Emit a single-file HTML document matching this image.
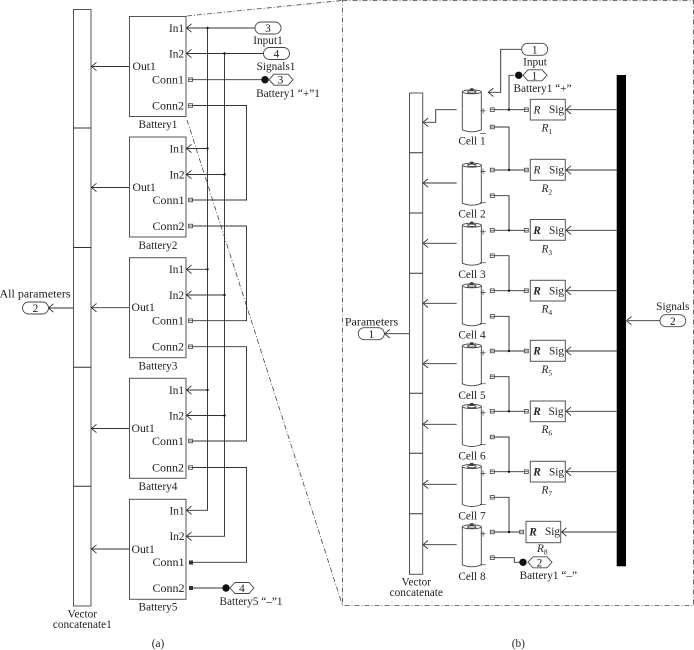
<!DOCTYPE html>
<html><head><meta charset="utf-8"><style>
html,body{margin:0;padding:0;background:#fff}
svg{display:block}
text{font-family:"Liberation Serif",serif;font-size:11.3px;fill:#222}
.m{text-anchor:middle}.e{text-anchor:end}
.r{font-style:italic}
.b{font-style:italic;font-weight:bold}
.s{font-size:7.5px}
.l{font-size:12px}
.u{font-size:11.7px}
</style></head><body>
<svg width="694" height="650" viewBox="0 0 694 650" xmlns="http://www.w3.org/2000/svg">
<defs>
<path id="a" d="M5-4.2L0 0 5 4.2" fill="none" stroke="#333" stroke-width=".9"/>
<g id="q"><rect x="-2" y="-1.8" width="4" height="3.6" fill="#fff" stroke="#444" stroke-width=".8"/><path d="M-2 0H2" stroke="#444" stroke-width=".7"/></g>
<rect id="k" x="-2" y="-2" width="4" height="4" fill="#333"/>
<circle id="d" r="1.2" fill="#111"/>
<g id="c" fill="#fff" stroke="#444" stroke-width=".9"><path d="M0 2.5V40.5Q9.5 44.5 19 40.5V2.5"/><ellipse cx="9.5" cy="2.5" rx="9.5" ry="2"/><ellipse cx="9.5" cy="2.6" rx="4.2" ry="1.2"/><rect x="8.2" y="-.6" width="2.6" height="2" fill="#333"/></g>
<circle id="o" r="3.7" fill="#111"/>
<path id="h" d="M0 0L5 -5.5H19L24 0 19 5.5H5Z" fill="#fff" stroke="#444" stroke-width=".9"/>
</defs>

<!-- dash-dot zoom -->
<g fill="none" stroke="#444" stroke-width=".8" stroke-dasharray="5 2 1 2">
<path d="M187 16L342 .5"/><path d="M187 120L342.5 605.5"/>
<path d="M342.5 .5H693.5V605.5H342.5Z"/>
</g>

<!-- (a) blocks -->
<g fill="#fff" stroke="#555" stroke-width="1">
<rect x="73.5" y="9.5" width="17.5" height="596.5"/>
<path d="M73.5 128H91M73.5 247.5H91M73.5 367.3H91M73.5 486.3H91" stroke="#333"/>
<rect x="129.5" y="16.5" width="56.5" height="100"/>
<rect x="129.5" y="137" width="56.5" height="100"/>
<rect x="129.5" y="257.7" width="56.5" height="100"/>
<rect x="129.5" y="378.3" width="56.5" height="100"/>
<rect x="129.5" y="499.3" width="56.5" height="100"/>
</g>
<g fill="none" stroke="#333" stroke-width=".95">
<path d="M129 66.5H92M129 187.5H92M129 307.7H92M129 428.5H92M129 549H92"/>
<path d="M73 308H49"/>
<path d="M255 28H187M207.5 28V510.3H187"/>
<path d="M264 53.5H187M224.5 53.5V536.3H187"/>
<path d="M207.5 148.5H187M224.5 174.5H187M207.5 269.3H187M224.5 295H187M207.5 390H187M224.5 415.5H187"/>
<path d="M192.5 79.7H262"/>
<path d="M192.5 105.5H246.5V200H192.5"/>
<path d="M192.5 226H246.5V320.7H192.5"/>
<path d="M192.5 346.7H246.5V441H192.5"/>
<path d="M192.5 467.5H246.5V562.3H192.5"/>
<path d="M192.5 588H224"/>
</g>
<g>
<use href="#a" x="91.5" y="66.5"/><use href="#a" x="91.5" y="187.5"/><use href="#a" x="91.5" y="307.7"/><use href="#a" x="91.5" y="428.5"/><use href="#a" x="91.5" y="549"/>
<use href="#a" x="48.5" y="308"/>
<use href="#a" x="186.5" y="28"/><use href="#a" x="186.5" y="53.5"/><use href="#a" x="186.5" y="148.5"/><use href="#a" x="186.5" y="174.5"/><use href="#a" x="186.5" y="269.3"/><use href="#a" x="186.5" y="295"/><use href="#a" x="186.5" y="390"/><use href="#a" x="186.5" y="415.5"/><use href="#a" x="186.5" y="510.3"/><use href="#a" x="186.5" y="536.3"/>
<use href="#d" x="207.5" y="28"/><use href="#d" x="224.5" y="53.5"/><use href="#d" x="207.5" y="148.5"/><use href="#d" x="224.5" y="174.5"/><use href="#d" x="207.5" y="269.3"/><use href="#d" x="224.5" y="295"/><use href="#d" x="207.5" y="390"/><use href="#d" x="224.5" y="415.5"/>
<use href="#q" x="190.5" y="79.7"/><use href="#q" x="190.5" y="105.5"/><use href="#q" x="190.5" y="200"/><use href="#q" x="190.5" y="226"/><use href="#q" x="190.5" y="320.7"/><use href="#q" x="190.5" y="346.7"/><use href="#q" x="190.5" y="441"/><use href="#q" x="190.5" y="467.5"/>
<use href="#k" x="191" y="562.5"/><use href="#k" x="191" y="588"/>
</g>
<g fill="#fff" stroke="#444" stroke-width=".9">
<rect x="255" y="22" width="26" height="12" rx="6"/>
<rect x="263.5" y="47.5" width="26" height="12" rx="6"/>
<rect x="22.5" y="302" width="26" height="12" rx="6"/>
</g>
<use href="#o" x="265" y="79.7"/><use href="#h" x="269" y="79.7"/>
<use href="#o" x="226" y="588"/><use href="#h" x="230" y="588"/>

<text class="m" x="268" y="32">3</text><text class="m" x="276.5" y="57.5">4</text>
<text class="m" x="35.5" y="312">2</text><text class="m" x="280.5" y="83.5">3</text><text class="m" x="242" y="592">4</text>
<text class="m" x="268" y="44">Input1</text>
<text class="m" x="276" y="70">Signals1</text>
<text class="m" x="288" y="97">Battery1 “+”1</text>
<text class="m" x="251" y="605">Battery5 “–”1</text>
<text class="m l" x="35" y="297.5">All parameters</text>
<text class="m" x="82.3" y="617.5">Vector</text><text class="m" x="82.3" y="628">concatenate1</text>
<text class="m" x="158" y="647">(a)</text>

<g>
<text class="e" x="184" y="32">In1</text><text class="e" x="184" y="57.5">In2</text><text class="e l" x="184" y="83.5">Conn1</text><text class="e l" x="184" y="109.5">Conn2</text><text class="u" x="132.5" y="70">Out1</text><text class="m" x="158" y="128">Battery1</text>
<text class="e" x="184.5" y="152.5">In1</text><text class="e" x="184.5" y="178.5">In2</text><text class="e l" x="184.5" y="204">Conn1</text><text class="e l" x="184.5" y="230">Conn2</text><text class="u" x="132.5" y="191">Out1</text><text class="m" x="158" y="249">Battery2</text>
<text class="e" x="184" y="273">In1</text><text class="e" x="184" y="299">In2</text><text class="e l" x="184" y="324.5">Conn1</text><text class="e l" x="184" y="350.5">Conn2</text><text class="u" x="131.5" y="311">Out1</text><text class="m" x="158" y="369.5">Battery3</text>
<text class="e" x="184" y="394">In1</text><text class="e" x="184" y="419.5">In2</text><text class="e l" x="184" y="445">Conn1</text><text class="e l" x="184" y="471.5">Conn2</text><text class="u" x="131.5" y="432">Out1</text><text class="m" x="158" y="490">Battery4</text>
<text class="e" x="184.5" y="514.5">In1</text><text class="e" x="184.5" y="540">In2</text><text class="e l" x="184.5" y="566">Conn1</text><text class="e l" x="184.5" y="592">Conn2</text><text class="u" x="131.5" y="553">Out1</text><text class="m" x="158" y="610.5">Battery5</text>
</g>

<!-- (b) -->
<g fill="#fff" stroke="#555" stroke-width="1">
<rect x="409.5" y="93" width="13.2" height="481.3"/>
<path d="M409.5 152.7H422.7M409.5 213H422.7M409.5 273.3H422.7M409.5 393.3H422.7M409.5 453.3H422.7M409.5 513.7H422.7" stroke="#333"/>
</g>
<rect x="616.7" y="75" width="9.3" height="491.3" fill="#000"/>
<use href="#c" x="462.3" y="89.3"/><use href="#c" x="462.3" y="162.7"/><use href="#c" x="462.3" y="222.7"/><use href="#c" x="462.3" y="283.3"/><use href="#c" x="462.3" y="343.3"/><use href="#c" x="462.3" y="404"/><use href="#c" x="462.3" y="464"/><use href="#c" x="462.3" y="524.3"/>

<g fill="none" stroke="#333" stroke-width=".95">
<path d="M456.7 109.7H435.7V122.3H424"/>
<path d="M456.7 183H424M456.7 243.3H424M456.7 303.3H424M456.7 363.7H424M456.7 424.3H424M456.7 484.3H424M456.7 544.7H424"/>
<path d="M409 333.7H385"/>
<path d="M521.7 49.3H500.7V92.3H489"/>
<path d="M514 75.3H509V109.7"/>
<path d="M494 109.7H525M494 170H525M494 230.3H525M494 290.7H525M494 351H525M494 411.3H525M494 471.7H525M494 532H520"/>
<path d="M494 127H509V170M494 195.7H509V230.3M494 255.7H509V290.7M494 316.3H509V351M494 376.7H509V411.3M494 437H509V471.7M494 497.3H509V532"/>
<path d="M494 557.7H514.3V562.3H520"/>
<path d="M616.7 109.7H567M616.7 170H567M616.7 230.3H567M616.7 290.7H567M616.7 351H567M616.7 411.3H567M616.7 471.7H567M616.7 532H562"/>
<path d="M660 320.7H628"/>
</g>
<g fill="#fff" stroke="#555" stroke-width="1">
<rect x="530.3" y="99.3" width="35" height="20.7"/>
<rect x="530.3" y="159.3" width="35" height="21"/>
<rect x="530.3" y="219.5" width="35" height="20.8"/>
<rect x="530.3" y="280.3" width="35" height="20.7"/>
<rect x="530.3" y="340.3" width="35" height="21"/>
<rect x="530.3" y="401" width="35" height="20.7"/>
<rect x="530.3" y="461.3" width="35" height="20.7"/>
<rect x="526" y="521.3" width="34.7" height="21.4"/>
<rect x="358.3" y="327.7" width="26" height="12" rx="6" stroke="#444" stroke-width=".9"/>
<rect x="660" y="314.7" width="25.7" height="12" rx="6" stroke="#444" stroke-width=".9"/>
<rect x="521.7" y="43.3" width="26" height="12" rx="6" stroke="#444" stroke-width=".9"/>
</g>
<g>
<use href="#a" x="423" y="122.3"/><use href="#a" x="423" y="183"/><use href="#a" x="423" y="243.3"/><use href="#a" x="423" y="303.3"/><use href="#a" x="423" y="363.7"/><use href="#a" x="423" y="424.3"/><use href="#a" x="423" y="484.3"/><use href="#a" x="423" y="544.7"/>
<use href="#a" x="384.7" y="333.7"/><use href="#a" x="488.3" y="92.3"/><use href="#a" x="626.5" y="320.7"/>
<use href="#a" x="566" y="109.7"/><use href="#a" x="566" y="170"/><use href="#a" x="566" y="230.3"/><use href="#a" x="566" y="290.7"/><use href="#a" x="566" y="351"/><use href="#a" x="566" y="411.3"/><use href="#a" x="566" y="471.7"/><use href="#a" x="561.5" y="532"/>
<use href="#q" x="492.3" y="109.7"/><use href="#q" x="492.3" y="127"/><use href="#q" x="492.3" y="170"/><use href="#q" x="492.3" y="195.7"/><use href="#q" x="492.3" y="230.3"/><use href="#q" x="492.3" y="255.7"/><use href="#q" x="492.3" y="290.7"/><use href="#q" x="492.3" y="316.3"/><use href="#q" x="492.3" y="351"/><use href="#q" x="492.3" y="376.7"/><use href="#q" x="492.3" y="411.3"/><use href="#q" x="492.3" y="437"/><use href="#q" x="492.3" y="471.7"/><use href="#q" x="492.3" y="497.3"/><use href="#q" x="492.3" y="532"/><use href="#q" x="492.3" y="557.7"/>
<use href="#q" x="526.3" y="109.7"/><use href="#q" x="526.3" y="170"/><use href="#q" x="526.3" y="230.3"/><use href="#q" x="526.3" y="290.7"/><use href="#q" x="526.3" y="351"/><use href="#q" x="526.3" y="411.3"/><use href="#q" x="526.3" y="471.7"/><use href="#q" x="521.7" y="532"/>
<use href="#d" x="509" y="109.7"/><use href="#d" x="509" y="170"/><use href="#d" x="509" y="230.3"/><use href="#d" x="509" y="290.7"/><use href="#d" x="509" y="351"/><use href="#d" x="509" y="411.3"/><use href="#d" x="509" y="471.7"/><use href="#d" x="509" y="532"/>
<use href="#o" x="518.7" y="75.3"/><use href="#h" x="523" y="75.3"/>
<use href="#o" x="523" y="562.3"/><use href="#h" x="528" y="562.3"/>
</g>
<text class="m" x="534.7" y="53.5">1</text><text class="m" x="534.5" y="79.5">1</text><text class="m" x="371.3" y="338">1</text><text class="m" x="672.8" y="325">2</text><text class="m" x="539.5" y="566.5">2</text>
<text class="m" x="535" y="65.5">Input</text>
<text class="m" x="542.5" y="92">Battery1 “+”</text>
<text class="m l" x="371.5" y="325.5">Parameters</text>
<text class="m" x="672.8" y="310">Signals</text>
<text class="m" x="548.3" y="579">Battery1 “–”</text>
<text class="m" x="416.3" y="585.7">Vector</text><text class="m" x="416.3" y="595.8">concatenate</text>
<text class="m" x="518.3" y="647">(b)</text>

<text class="m" x="472" y="144.5">Cell 1</text><text class="m" x="472" y="217.5">Cell 2</text><text class="m" x="472" y="278">Cell 3</text><text class="m" x="472" y="338.5">Cell 4</text><text class="m" x="472" y="399">Cell 5</text><text class="m" x="472" y="459.5">Cell 6</text><text class="m" x="472" y="519.5">Cell 7</text><text class="m" x="472" y="580">Cell 8</text>

<g>
<text class="m" x="483" y="114.5">+</text><text class="m" x="483" y="136">–</text>
<text class="m" x="483" y="175">+</text><text class="m" x="483" y="205.5">–</text>
<text class="m" x="483" y="235.5">+</text><text class="m" x="483" y="265.5">–</text>
<text class="m" x="483" y="296">+</text><text class="m" x="483" y="326">–</text>
<text class="m" x="483" y="356.5">+</text><text class="m" x="483" y="386.5">–</text>
<text class="m" x="483" y="416.5">+</text><text class="m" x="483" y="447">–</text>
<text class="m" x="483" y="477">+</text><text class="m" x="483" y="507">–</text>
<text class="m" x="483" y="537.5">+</text><text class="m" x="483" y="567.5">–</text>
</g>

<text class="r m" x="537" y="113.5">R</text><text class="m" x="556.5" y="113">Sig</text>
<text class="r m" x="537" y="173.5">R</text><text class="m" x="556.5" y="173.5">Sig</text>
<text class="b m" x="537" y="234">R</text><text class="m" x="556.5" y="234">Sig</text>
<text class="b m" x="537" y="294.5">R</text><text class="m" x="556.5" y="294.5">Sig</text>
<text class="b m" x="537" y="354.5">R</text><text class="m" x="556.5" y="354.5">Sig</text>
<text class="b m" x="537" y="415">R</text><text class="m" x="556" y="415">Sig</text>
<text class="b m" x="537" y="475.5">R</text><text class="m" x="556.5" y="475.5">Sig</text>
<text class="b m" x="533" y="535.5">R</text><text class="m" x="552.5" y="535">Sig</text>

<text class="r" x="541.5" y="131.5">R<tspan class="s" font-style="normal" dy="2.5">1</tspan></text>
<text class="r" x="541.5" y="192">R<tspan class="s" font-style="normal" dy="2.5">2</tspan></text>
<text class="r" x="541.5" y="252.5">R<tspan class="s" font-style="normal" dy="2.5">3</tspan></text>
<text class="r" x="541.5" y="312.5">R<tspan class="s" font-style="normal" dy="2.5">4</tspan></text>
<text class="r" x="541.5" y="373">R<tspan class="s" font-style="normal" dy="2.5">5</tspan></text>
<text class="r" x="541.5" y="433">R<tspan class="s" font-style="normal" dy="2.5">6</tspan></text>
<text class="r" x="541.5" y="493.5">R<tspan class="s" font-style="normal" dy="2.5">7</tspan></text>
<text class="r" x="537" y="552">R<tspan class="s" font-style="normal" dy="2.5">8</tspan></text>
</svg>
</body></html>
